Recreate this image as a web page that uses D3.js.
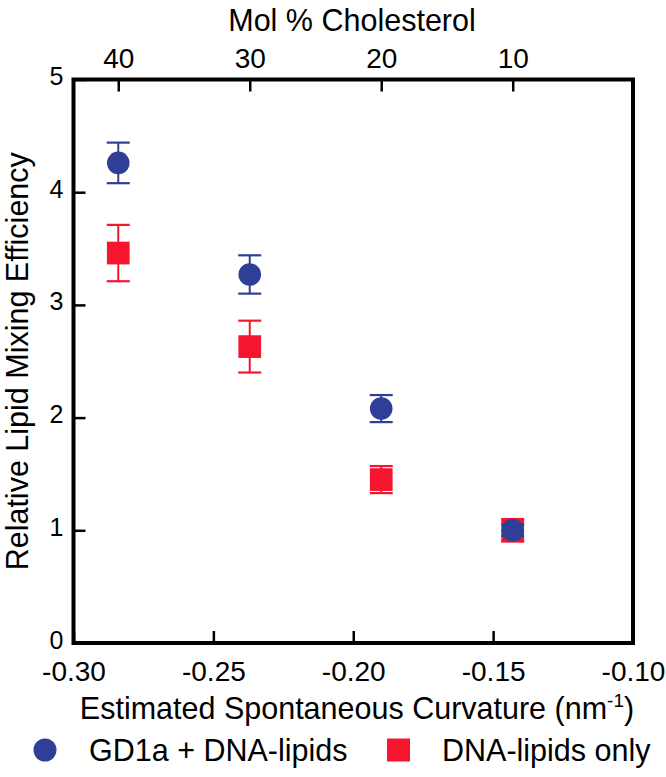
<!DOCTYPE html>
<html>
<head>
<meta charset="utf-8">
<script src="https://cdn.jsdelivr.net/npm/d3@7/dist/d3.min.js"></script>
<style>
  html, body { margin: 0; padding: 0; background: #fff; }
  svg text { font-family: "Liberation Sans", Arial, Helvetica, sans-serif; fill: #000; }
</style>
</head>
<body>
<div id="chart"></div>
<script>
// ---- data ----
const curvature = [-0.284, -0.237, -0.190, -0.143];
const cholesterol = [40, 30, 20, 10];
const gd1aValues = [4.26, 3.27, 2.08, 1.00];
const gd1aErrors = [0.18, 0.17, 0.12, 0.05];
const dnaValues = [3.46, 2.63, 1.45, 1.00];
const dnaErrors = [0.25, 0.23, 0.12, 0.10];
const xTicks = [-0.30, -0.25, -0.20, -0.15, -0.10];
const yTicks = [0, 1, 2, 3, 4, 5];
const seriesNames = ["GD1a + DNA-lipids", "DNA-lipids only"];

const W = 666, H = 777;
const margin = { left: 73.5, right: 33, top: 79.5, bottom: 134 };
const blue = "#2f3e97", red = "#f5152f";

const svg = d3.select("#chart").append("svg").attr("width", W).attr("height", H);

const x = d3.scaleLinear().domain([-0.30, -0.10]).range([margin.left, W - margin.right]);
const y = d3.scaleLinear().domain([0, 5]).range([H - margin.bottom, margin.top]);

const fontTick = 28, fontYTick = 25, fontTitle = 30.5;

function styleAxis(g, size) {
  g.select(".domain").remove();
  g.selectAll(".tick line").attr("stroke", "#000").attr("stroke-width", 2.5);
  g.selectAll(".tick text").attr("font-size", size).attr("fill", "#000");
}
const gx = svg.append("g").attr("transform", `translate(0,${y(0)})`)
  .call(d3.axisBottom(x).tickValues(xTicks).tickFormat(d3.format(".2f")).tickSizeInner(-12).tickSizeOuter(0).tickPadding(18))
  .call(styleAxis, fontTick);
gx.selectAll(".tick text").text(d => d3.format(".2f")(d).replace("−", "-"));

const gy = svg.append("g").attr("transform", `translate(${x(-0.30)},0)`)
  .call(d3.axisLeft(y).tickValues(yTicks).tickFormat(d3.format("d")).tickSizeInner(-12).tickSizeOuter(0).tickPadding(10))
  .call(styleAxis, fontYTick);
gy.selectAll(".tick text").attr("y", -3);

const gt = svg.append("g").attr("transform", `translate(0,${y(5)})`)
  .call(d3.axisTop(x).tickValues(curvature).tickFormat((d, i) => cholesterol[i]).tickSizeInner(-12).tickSizeOuter(0).tickPadding(11.5))
  .call(styleAxis, fontTick);

// frame
svg.append("rect")
  .attr("x", x(-0.30)).attr("y", y(5))
  .attr("width", x(-0.10) - x(-0.30)).attr("height", y(0) - y(5))
  .attr("fill", "none").attr("stroke", "#000").attr("stroke-width", 4);

// titles
svg.append("text").attr("x", 352).attr("y", 31)
  .attr("text-anchor", "middle").attr("font-size", fontTitle).text("Mol % Cholesterol");

const xt = svg.append("text").attr("x", 357).attr("y", 719)
  .attr("text-anchor", "middle").attr("font-size", fontTitle);
xt.append("tspan").text("Estimated Spontaneous Curvature (nm");
xt.append("tspan").attr("dy", -12).attr("font-size", 19).text("-1");
xt.append("tspan").attr("dy", 12).text(")");

svg.append("text")
  .attr("transform", `translate(28,${(y(0) + y(5)) / 2}) rotate(-90)`)
  .attr("text-anchor", "middle").attr("font-size", fontTitle).text("Relative Lipid Mixing Efficiency");

// series
const r = 11.3, sq = 22.7, capW = 23;
function drawErr(data, color) {
  const g = svg.append("g");
  g.selectAll("line.v").data(data).join("line")
    .attr("class", "v")
    .attr("x1", d => x(d.x)).attr("x2", d => x(d.x))
    .attr("y1", d => y(d.v + d.e)).attr("y2", d => y(d.v - d.e))
    .attr("stroke", color).attr("stroke-width", 2);
  g.selectAll("line.t").data(data).join("line")
    .attr("class", "t")
    .attr("x1", d => x(d.x) - capW / 2).attr("x2", d => x(d.x) + capW / 2)
    .attr("y1", d => y(d.v + d.e)).attr("y2", d => y(d.v + d.e))
    .attr("stroke", color).attr("stroke-width", 2.2);
  g.selectAll("line.b").data(data).join("line")
    .attr("class", "b")
    .attr("x1", d => x(d.x) - capW / 2).attr("x2", d => x(d.x) + capW / 2)
    .attr("y1", d => y(d.v - d.e)).attr("y2", d => y(d.v - d.e))
    .attr("stroke", color).attr("stroke-width", 2.2);
}
const dnaData = curvature.map((c, i) => ({ x: c, v: dnaValues[i], e: dnaErrors[i] }));
const gdData = curvature.map((c, i) => ({ x: c, v: gd1aValues[i], e: gd1aErrors[i] }));

drawErr(dnaData, red);
svg.append("g").selectAll("rect").data(dnaData).join("rect")
  .attr("x", d => x(d.x) - sq / 2).attr("y", d => y(d.v) - sq / 2)
  .attr("width", sq).attr("height", sq).attr("fill", red);

drawErr(gdData, blue);
svg.append("g").selectAll("circle").data(gdData).join("circle")
  .attr("cx", d => x(d.x)).attr("cy", d => y(d.v)).attr("r", r).attr("fill", blue);

// legend
const lg = svg.append("g");
lg.append("circle").attr("cx", 45).attr("cy", 750).attr("r", 11.5).attr("fill", blue);
lg.append("text").attr("x", 89).attr("y", 761).attr("font-size", fontTitle).text(seriesNames[0]);
lg.append("rect").attr("x", 387).attr("y", 738.5).attr("width", 23).attr("height", 23).attr("fill", red);
lg.append("text").attr("x", 442).attr("y", 761).attr("font-size", fontTitle).text(seriesNames[1]);
</script>
</body>
</html>
